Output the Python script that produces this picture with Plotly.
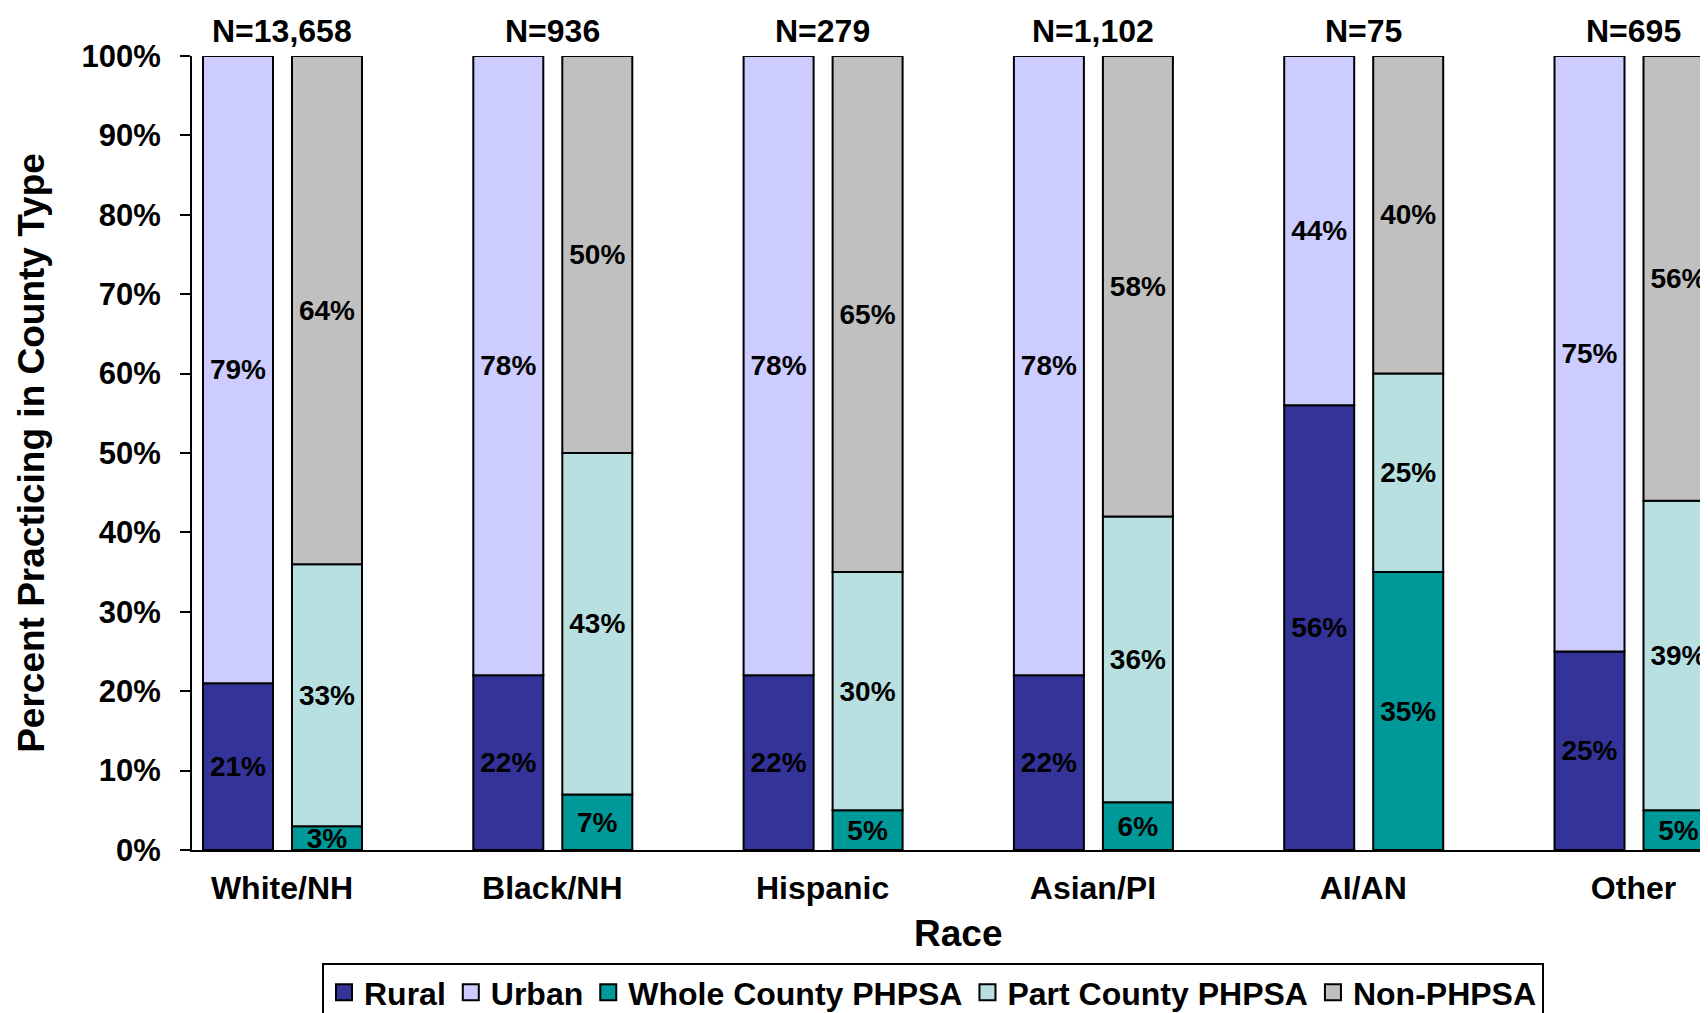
import numpy as np
import plotly.graph_objects as go

# ---- data ----
races = ["White/NH", "Black/NH", "Hispanic", "Asian/PI", "AI/AN", "Other"]
n_labels = ["N=13,658", "N=936", "N=279", "N=1,102", "N=75", "N=695"]

rural = [21, 22, 22, 22, 56, 25]
urban = [79, 78, 78, 78, 44, 75]
whole_county = [3, 7, 5, 6, 35, 5]
part_county = [33, 43, 30, 36, 25, 39]
non_phpsa = [64, 50, 65, 58, 40, 56]

y_ticks = [0, 10, 20, 30, 40, 50, 60, 70, 80, 90, 100]

# ---- styling ----
C_RURAL = "#333399"
C_URBAN = "#CCCCFF"
C_WHOLE = "#009999"
C_PART = "#B9E0E1"
C_NON = "#C0C0C0"
FONT = "Liberation Sans, Arial, sans-serif"

# page has an 8px body margin; figure coordinates = page coordinates - 8
PAD = 8
W, H = 1708 - 2 * PAD, 1013 - PAD
ML = 192 - PAD
MT = 56 - PAD
MB = H - (850 - PAD)
MR = 0
GROUP_PX = 270.3
CENTER0_PX = 282 - PAD
BAR_W = 70 / GROUP_PX
OFF_LEFT = (203 - 282) / GROUP_PX
OFF_RIGHT = (292 - 282) / GROUP_PX
plot_w = W - ML - MR
plot_h = H - MT - MB

fig = go.Figure()

line = dict(color="black", width=2)
txt = dict(family=FONT, size=28, color="black", weight="bold")


def add_bar(values, base, color, offset):
    fig.add_trace(go.Bar(
        x=races, y=values, base=base, width=BAR_W, offset=offset,
        marker=dict(color=color, line=line),
        text=[f"{v}%" for v in values], textposition="inside", insidetextanchor="middle",
        textangle=0, constraintext="none", textfont=txt,
        showlegend=False, hoverinfo="skip",
    ))


base0 = np.zeros(len(races))
add_bar(rural, base0, C_RURAL, OFF_LEFT)
add_bar(urban, np.array(rural), C_URBAN, OFF_LEFT)
add_bar(whole_county, base0, C_WHOLE, OFF_RIGHT)
add_bar(part_county, np.array(whole_county), C_PART, OFF_RIGHT)
add_bar(non_phpsa, np.array(whole_county) + np.array(part_county), C_NON, OFF_RIGHT)

# legend entries
for name, col in [("Rural", C_RURAL), ("Urban", C_URBAN),
                  ("Whole County PHPSA", C_WHOLE), ("Part County PHPSA", C_PART),
                  ("Non-PHPSA", C_NON)]:
    fig.add_trace(go.Scatter(
        x=[None], y=[None], mode="markers", name=name,
        marker=dict(symbol="square", size=16, color=col, line=dict(color="black", width=2)),
        showlegend=True,
    ))

for r, n in zip(races, n_labels):
    fig.add_annotation(x=r, y=100, xref="x", yref="y", text=n, showarrow=False,
                       yanchor="bottom", yshift=5,
                       font=dict(family=FONT, size=32, color="black", weight="bold"))

# x-axis title (centred as in the original, which is wider than the window)
fig.add_annotation(x=(958 - 192) / plot_w, y=(850 - 933) / plot_h, xref="paper", yref="paper",
                   text="Race", showarrow=False, xanchor="center", yanchor="middle",
                   font=dict(family=FONT, size=37, color="black", weight="bold"))

x_lo = -(CENTER0_PX - ML) / GROUP_PX
x_hi = (W - MR - CENTER0_PX) / GROUP_PX

fig.update_layout(
    width=W, height=H,
    margin=dict(l=ML, r=MR, t=MT, b=MB, autoexpand=False),
    paper_bgcolor="white", plot_bgcolor="white",
    barmode="overlay",
    font=dict(family=FONT, color="black", weight="bold"),
    showlegend=True,
    legend=dict(
        orientation="h", x=(322 - 192) / plot_w, y=(850 - 963) / plot_h,
        xanchor="left", yanchor="top",
        bordercolor="black", borderwidth=2,
        font=dict(family=FONT, size=32, color="black", weight="bold"),
        itemsizing="trace", traceorder="normal",
    ),
    xaxis=dict(
        type="category", range=[x_lo, x_hi],
        showline=True, linecolor="black", linewidth=2,
        showgrid=False, zeroline=False, ticks="",
        tickfont=dict(family=FONT, size=32, color="black", weight="bold"),
        ticklabelstandoff=9,
    ),
    yaxis=dict(
        range=[0, 100], tickvals=y_ticks, ticktext=[f"{v}%" for v in y_ticks],
        showline=True, linecolor="black", linewidth=2,
        showgrid=False, zeroline=False,
        ticks="outside", ticklen=10, tickwidth=2, tickcolor="black",
        tickfont=dict(family=FONT, size=31, color="black", weight="bold"),
        ticklabelstandoff=13,
        title=dict(text="Percent Practicing in County Type", standoff=26,
                   font=dict(family=FONT, size=37, color="black", weight="bold")),
    ),
)

fig.write_html("out.html")
